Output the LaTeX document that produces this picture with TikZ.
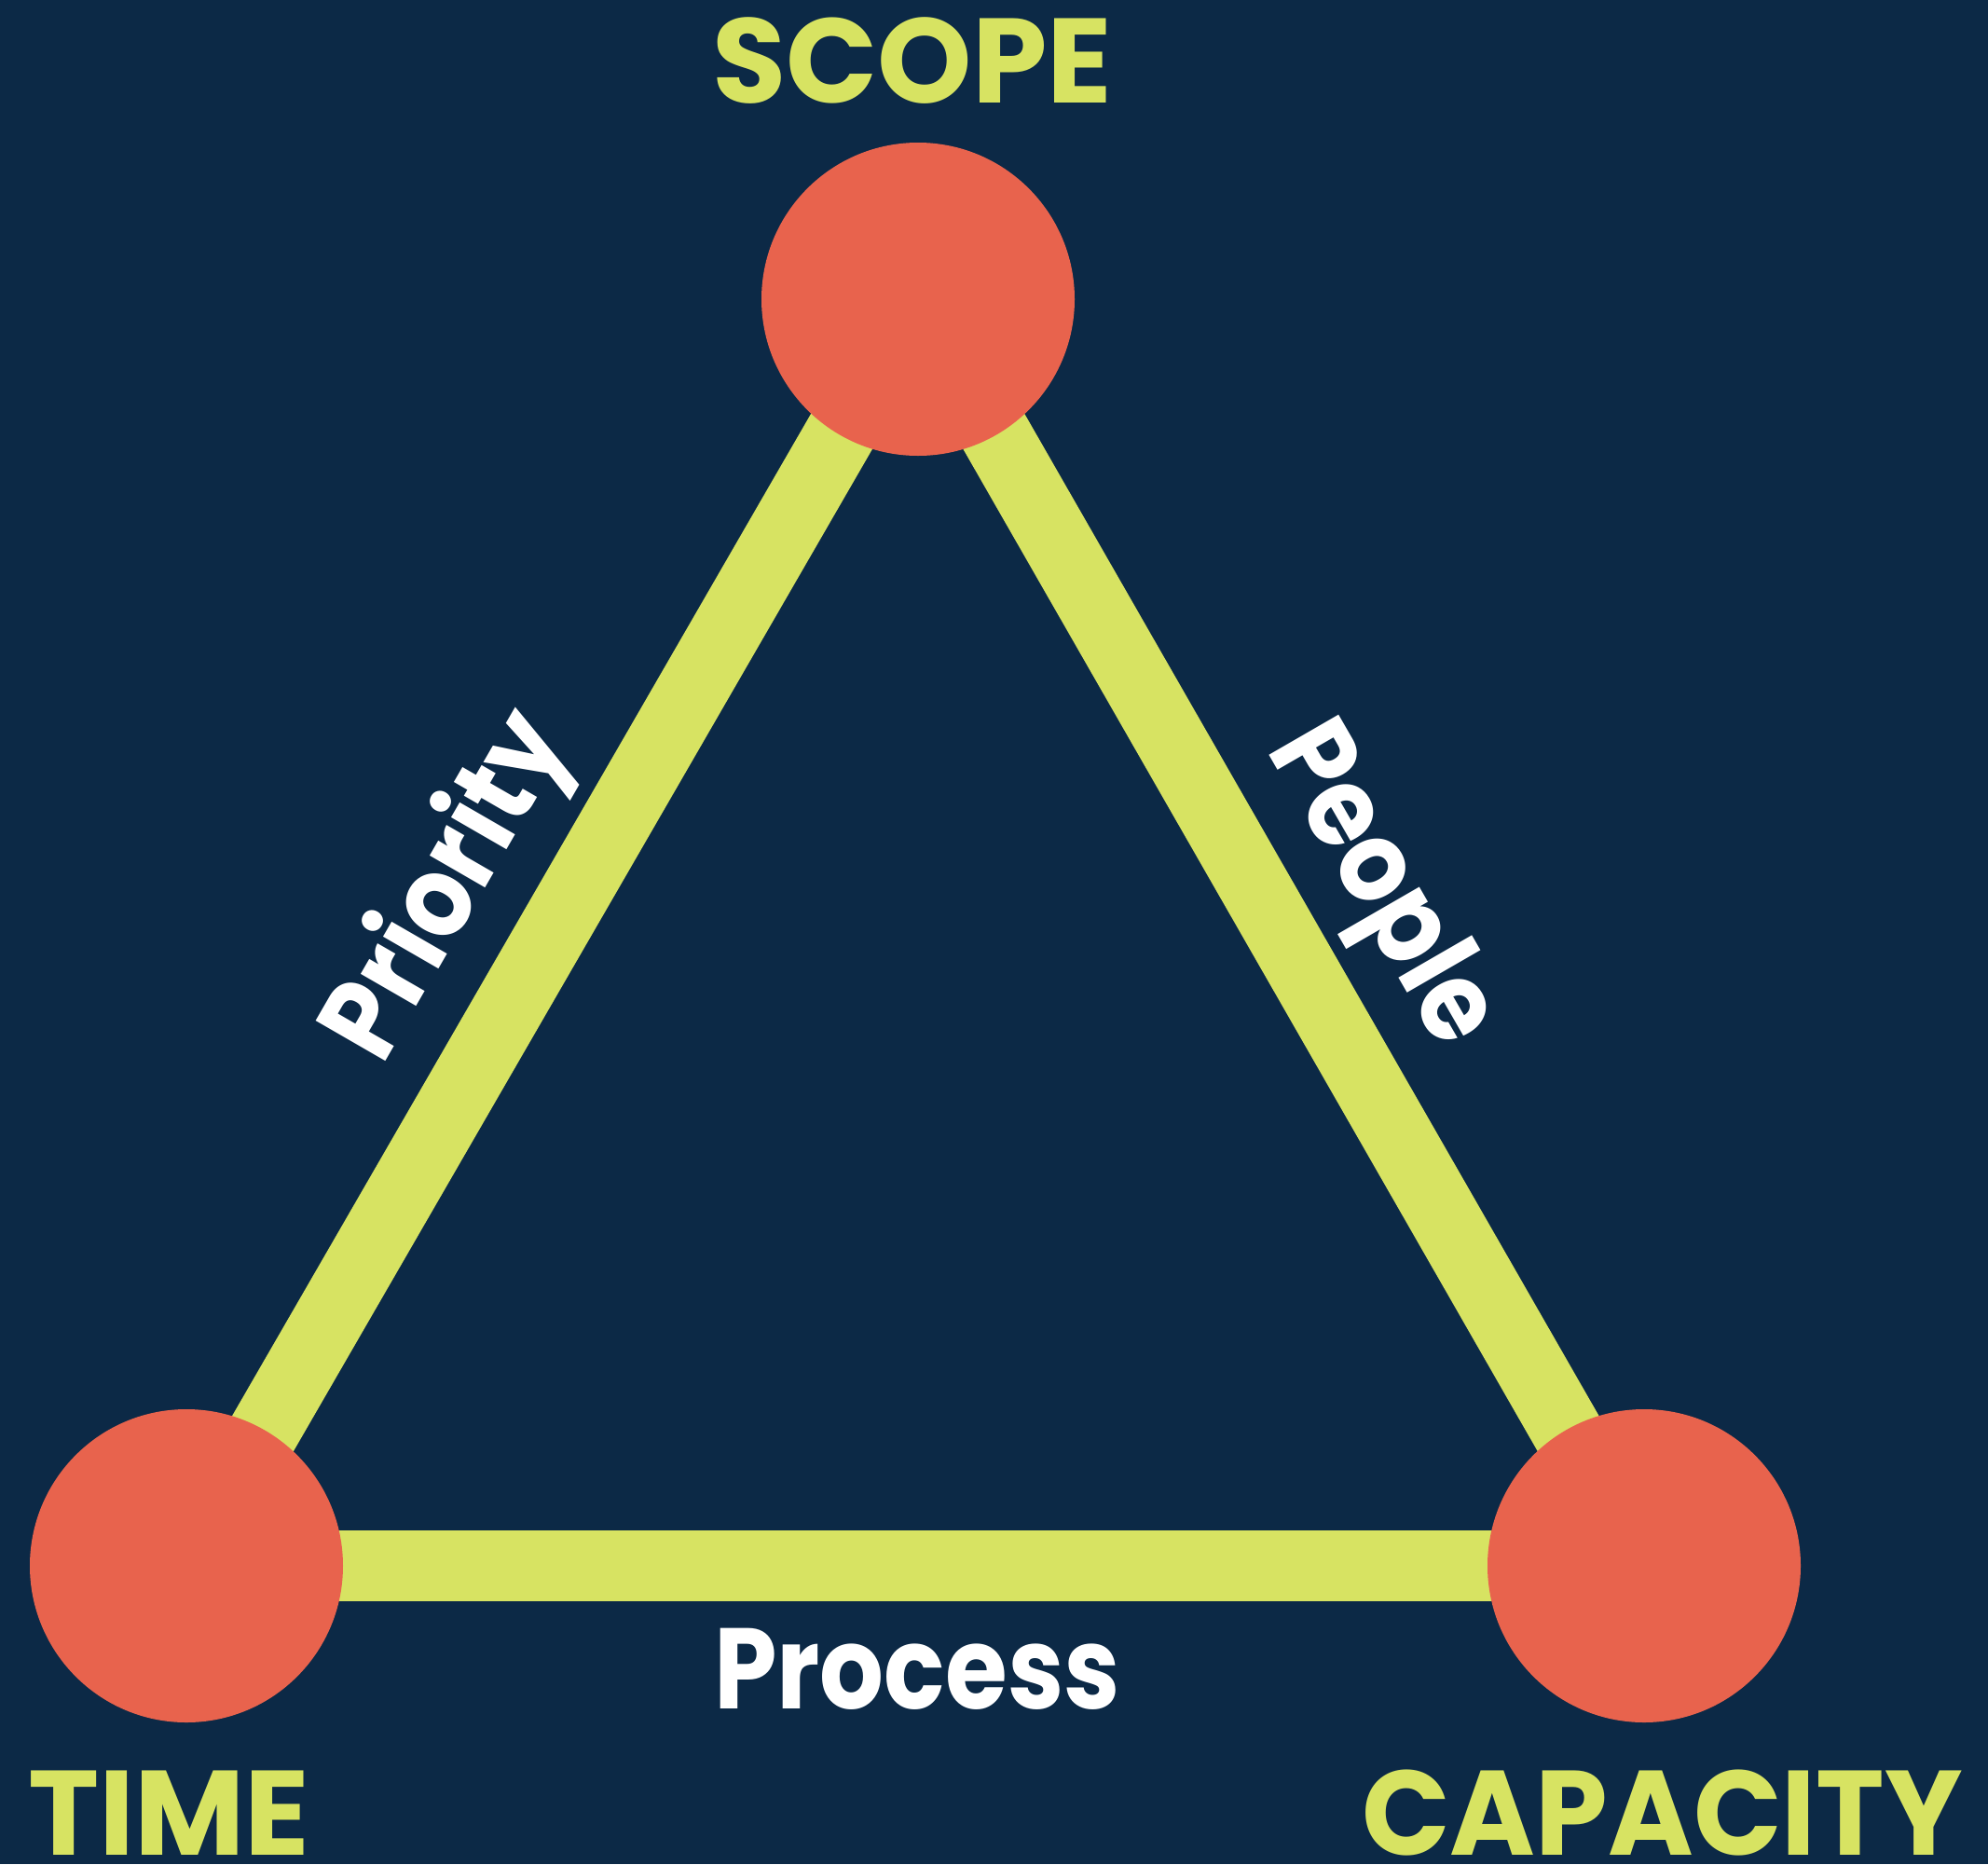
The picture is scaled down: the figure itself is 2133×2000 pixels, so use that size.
\documentclass[tikz,border=0pt]{standalone}
\usepackage{fontspec}
\setmainfont{Poppins}
\newfontfamily\sidefont{Poppins}[FakeStretch=0.88]
\newfontfamily\widefont{Poppins}[FakeStretch=0.965]
\definecolor{bg}{HTML}{0C2946}
\definecolor{lime}{HTML}{D7E362}
\definecolor{coral}{HTML}{E8634D}
\begin{document}
\begin{tikzpicture}[x=1pt,y=-1pt,
  edge/.style={draw=lime,line width=76pt},
  vertex/.style={circle,fill=coral,minimum size=336pt,inner sep=0pt},
  corner/.style={text=lime,font=\fontsize{129}{129}\selectfont\bfseries,inner sep=0pt},
  side/.style={text=white,font=\sidefont\fontsize{123}{123}\selectfont\bfseries,inner sep=0pt}]
\fill[bg] (0,0) rectangle (2133,2000);
\useasboundingbox (0,0) rectangle (2133,2000);
\coordinate (S) at (985,321);
\coordinate (T) at (200,1680);
\coordinate (C) at (1764,1680);
\draw[edge] (T) -- (S);
\draw[edge] (S) -- (C);
\draw[edge] (T) -- (C);
\node[vertex] (scope) at (S) {};
\node[vertex] (time) at (T) {};
\node[vertex] (capacity) at (C) {};
\node[corner,anchor=base] (scopelabel) at (979,110) {SCOPE};
\node[corner,anchor=base west] (timelabel) at (30,1990) {TIME};
\node[corner,anchor=base east,font=\widefont\fontsize{129}{129}\selectfont\bfseries] (capacitylabel) at (2106,1990) {CAPACITY};
\node[side,anchor=base] (process) at (984,1833) {Process};
\node[side,rotate=60] (priority) at (483,952) {Priority};
\node[side,rotate=-60] (people) at (1478,952) {People};
\end{tikzpicture}
\end{document}
